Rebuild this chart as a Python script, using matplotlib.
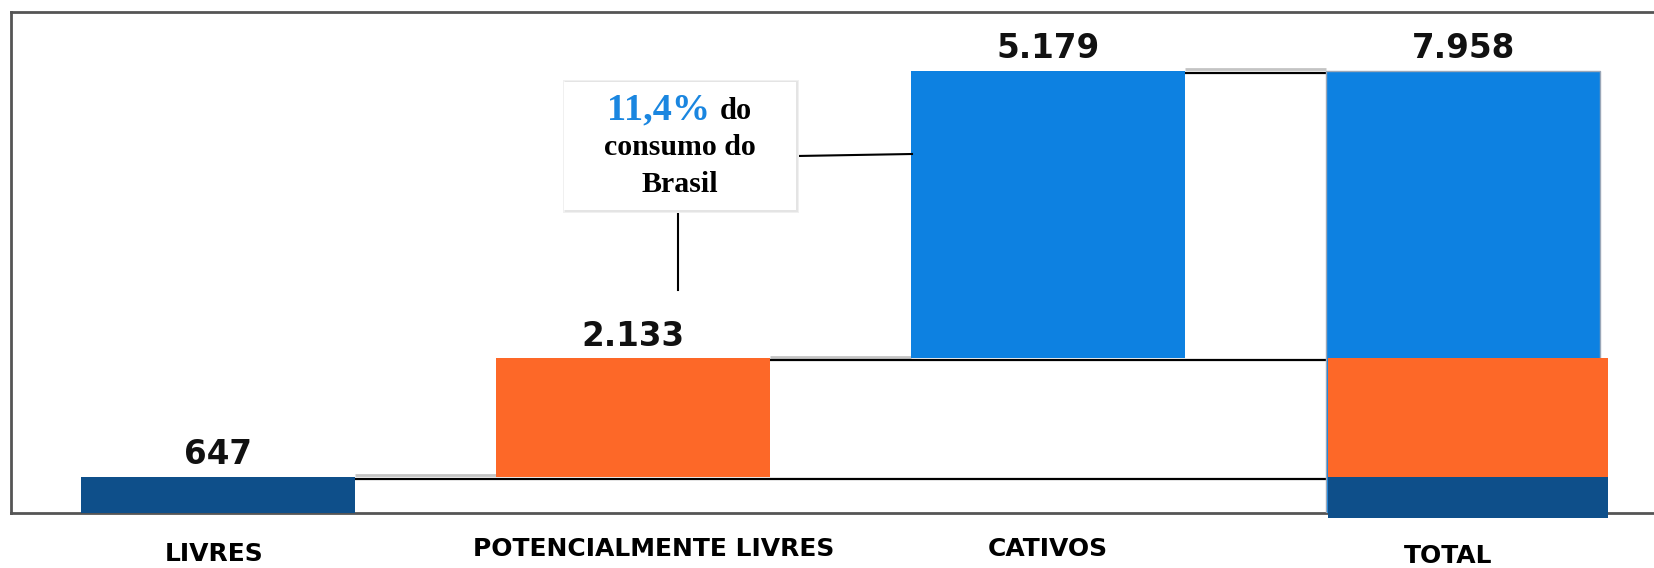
import matplotlib.pyplot as plt
from matplotlib.patches import Rectangle
from matplotlib import transforms

# data
categories = ['LIVRES', 'POTENCIALMENTE LIVRES', 'CATIVOS', 'TOTAL']
values = [647, 2133, 5179]
total = 7958
value_labels = ['647', '2.133', '5.179', '7.958']
share_pct = '11,4%'

dark_blue = '#0e4f8a'
orange = '#fd6828'
blue = '#0d81e1'
seg_colors = [dark_blue, orange, blue]

W, H = 1654, 568
fig = plt.figure(figsize=(W / 100, H / 100), dpi=100)
ax = fig.add_axes([10.5 / W, 1 - 512.6 / H, 1 - 10.5 / W, (512.6 - 12) / H])

bw = 0.66
bottoms = [sum(values[:i]) for i in range(len(values))]
tops = [b + v for b, v in zip(bottoms, values)]

# waterfall bars
for i, (b, v) in enumerate(zip(bottoms, values)):
    ax.bar(i, v, bottom=b, width=bw, color=seg_colors[i], zorder=3)

# total column: full blue bar with the stacked parts pasted over it
ax.bar(3, total, width=bw, color=blue, edgecolor='#9aa7b8', linewidth=1, zorder=3)
shift, wide = 0.012, 0.675
ax.bar(3 + shift, values[1], bottom=bottoms[1], width=wide, color=orange, zorder=4)
ax.bar(3 + shift, values[0] + 90, bottom=-90, width=wide, color=dark_blue,
       zorder=4, clip_on=False)

# connectors
for i in range(3):
    lvl = tops[i]
    ax.plot([i + bw / 2, i + 1 - bw / 2], [lvl + 25, lvl + 25], color='#c4c4c4',
            lw=2, zorder=2, solid_capstyle='butt')
    ax.plot([i + bw / 2, 3 - bw / 2], [lvl - 40, lvl - 40], color='black',
            lw=1.6, zorder=2, solid_capstyle='butt')

# value labels
label_tops = tops + [total]
for i, (lbl, t) in enumerate(zip(value_labels, label_tops)):
    ax.annotate(lbl, (i, t), xytext=(0, 9), textcoords='offset points',
                ha='center', va='baseline', fontsize=23.5, fontweight='bold',
                color='#111111', zorder=5)

ax.set_xlim(-0.5, 3.46)
ax.set_ylim(0, 9015)
ax.set_xticks([])
ax.set_yticks([])
for side in ['left', 'top', 'bottom']:
    ax.spines[side].set_color('#555555')
    ax.spines[side].set_linewidth(2)
ax.spines['right'].set_visible(False)

# category labels under the frame
blend = transforms.blended_transform_factory(ax.transData, fig.transFigure)
dx = [-0.01, 0.05, 0.0, -0.035]
ly = [554, 548.5, 548.5, 556]
for i, cat in enumerate(categories):
    fig.text(i + dx[i], 1 - ly[i] / H, cat, transform=blend, ha='center', va='center',
             fontsize=18, fontweight='bold', color='black')

# callout box with a soft shadow
bx0, bx1, by0, by1 = 564, 796, 82, 210
for off, col in [(3, '#f0f0f0'), (1.5, '#e4e4e4')]:
    fig.patches.append(Rectangle(((bx0 - off + 2) / W, 1 - (by1 + off) / H),
                                 (bx1 - bx0 + 2 * off - 2) / W, (by1 - by0 + 2 * off - 1) / H,
                                 transform=fig.transFigure, facecolor=col,
                                 edgecolor='none', zorder=5))
fig.patches.append(Rectangle((bx0 / W, 1 - by1 / H), (bx1 - bx0) / W, (by1 - by0) / H,
                             transform=fig.transFigure, facecolor='white',
                             edgecolor='none', zorder=6))
serif = ['Liberation Serif', 'DejaVu Serif']
fig.text(710 / W, 1 - 119.3 / H, share_pct, ha='right', va='baseline', fontsize=27.5,
         fontweight='bold', color='#1a86e0', family=serif, zorder=7)
fig.text(720 / W, 1 - 119.3 / H, 'do', ha='left', va='baseline', fontsize=22,
         fontweight='bold', color='black', family=serif, zorder=7)
fig.text(680 / W, 1 - 155.5 / H, 'consumo do', ha='center', va='baseline', fontsize=21.5,
         fontweight='bold', color='black', family=serif, zorder=7)
fig.text(680 / W, 1 - 191.7 / H, 'Brasil', ha='center', va='baseline', fontsize=21.5,
         fontweight='bold', color='black', family=serif, zorder=7)

# callout leader lines
fig.add_artist(plt.Line2D([797 / W, 912 / W], [1 - 156 / H, 1 - 154 / H],
                          transform=fig.transFigure, color='black', lw=1.5))
fig.add_artist(plt.Line2D([678 / W, 678 / W], [1 - 211 / H, 1 - 290 / H],
                          transform=fig.transFigure, color='black', lw=1.5))

fig.savefig('out.png', dpi=100)
